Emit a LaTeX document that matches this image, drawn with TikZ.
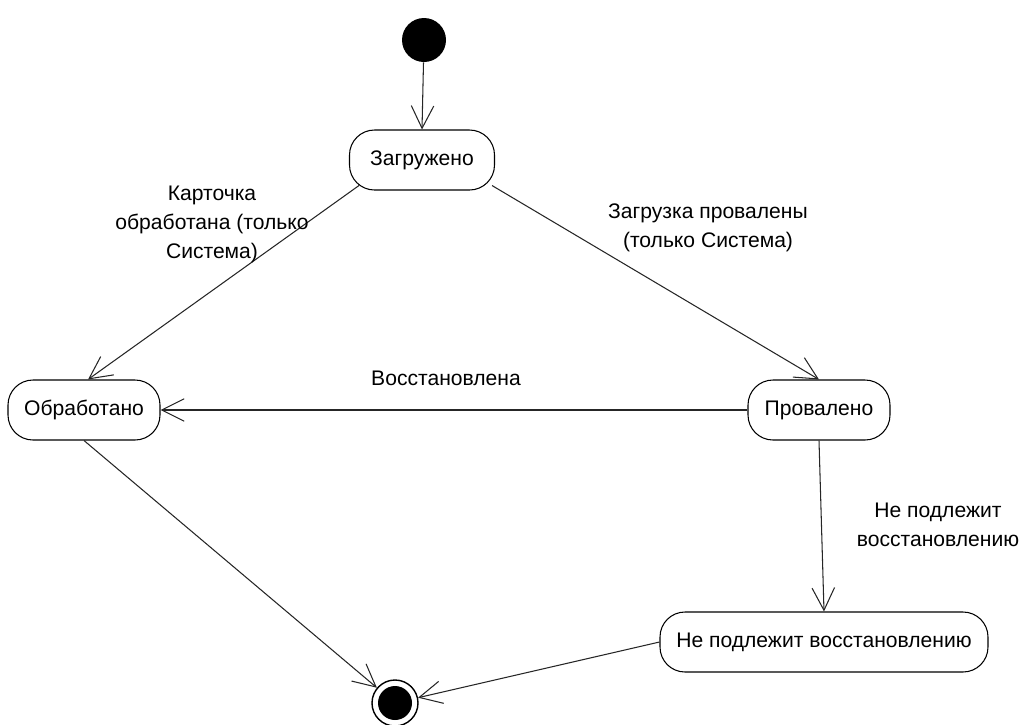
\documentclass[tikz,border=0pt]{standalone}
\usepackage{fontspec}
\setmainfont{Liberation Sans}
\usetikzlibrary{arrows.meta}
\begin{document}
\begin{tikzpicture}[font=\fontsize{12}{16.5}\selectfont]
\tikzset{state/.style={draw, line width=0.6pt, rounded corners=0.5cm, minimum height=1.2cm, inner sep=4pt},
    trans/.style={-{Straight Barb[length=0.45cm, width=0.45cm]}, line width=0.6pt, draw=black!85},
    lbl/.style={align=center, inner sep=0pt}}
\useasboundingbox (0,0) rectangle (20.52,-14.48);

\node[circle, fill=black, minimum size=0.88cm, inner sep=0pt] (start) at (8.48,-0.8) {};
\node[state, minimum width=2.9cm] (zag) at (8.44,-3.2) {Загружено};
\node[state, minimum width=3.04cm] (obr) at (1.68,-8.2) {Обработано};
\node[state, minimum width=2.84cm] (prov) at (16.38,-8.2) {Провалено};
\node[state, minimum width=6.56cm] (nepod) at (16.48,-12.84) {Не подлежит восстановлению};
% final state
\node[circle, draw, line width=0.8pt, minimum size=0.92cm, inner sep=0pt] (fin) at (7.9,-14.06) {};
\fill (fin) circle (0.34cm);

\draw[trans] (start) -- (zag.north);
\draw[trans] ([shift={(0.2,0.1)}]zag.south west) -- ([xshift=0.08cm]obr.north);
\draw[trans] ([shift={(-0.06,0.1)}]zag.south east) -- (prov.north);
\draw[trans] (prov.west) -- (obr.east);
\draw[trans] (prov.south) -- (nepod.north);
\draw[trans] (obr.south) -- (fin);
\draw[trans] (nepod.west) -- (fin);

\node[lbl] (l1) at (4.24,-4.48) {Карточка\\обработана (только\\Система)};
\node[lbl] (l2) at (14.16,-4.56) {Загрузка провалены\\(только Система)};
\node[lbl] (l3) at (8.92,-7.56) {Восстановлена};
\node[lbl] (l4) at (18.76,-10.5) {Не подлежит\\восстановлению};
\end{tikzpicture}
\end{document}
